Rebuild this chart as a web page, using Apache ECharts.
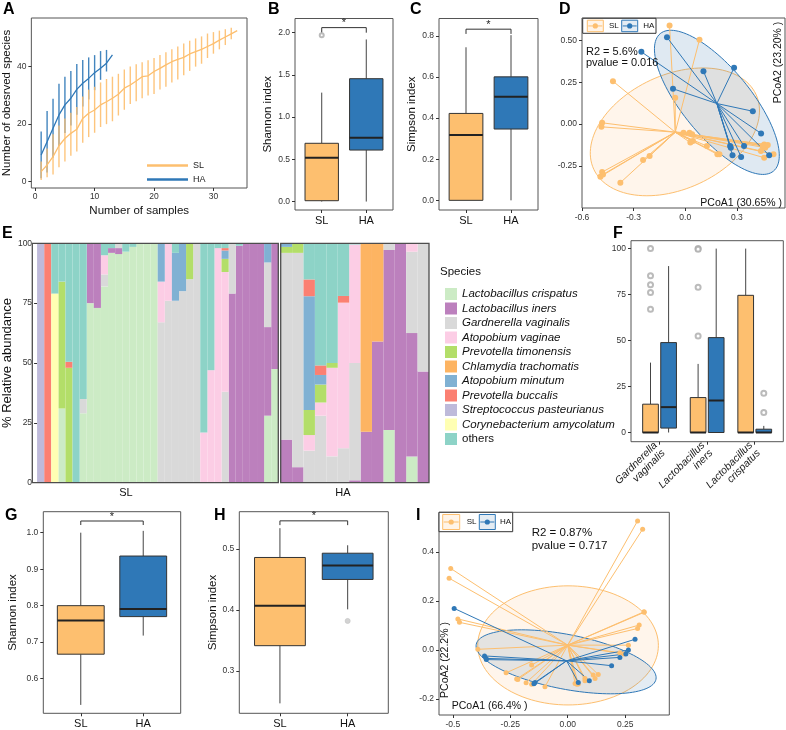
<!DOCTYPE html>
<html>
<head>
<meta charset="utf-8">
<title>Microbiome panels</title>
<script src="https://cdn.jsdelivr.net/npm/echarts@6.0.0/dist/echarts.min.js"></script>
<style>
  html, body { margin: 0; padding: 0; background: #fff; }
  #main { width: 786px; height: 730px; }
</style>
</head>
<body>
<div id="main"></div>
<script>
var FONT = '"Liberation Sans", Arial, sans-serif';
var ORANGE = '#FDBF6F';
var BLUE = '#2F78B7';
var groups = ['SL', 'HA'];

// ---- A: rarefaction curves (mean and error bars) ----
var rareSlX = [1, 2, 3, 4, 5, 6, 7, 8, 9, 10, 11, 12, 13, 14, 15, 16, 17, 18, 19, 20, 21, 22, 23, 24, 25, 26, 27, 28, 29, 30, 31, 32, 33, 34];
var rareSlMean = [3.5, 5.8, 8.7, 12.5, 15, 16.8, 18.2, 22, 23.8, 24.9, 26.7, 27.8, 29, 30.4, 32.5, 33.6, 35, 36.5, 36.8, 38.3, 39.4, 40.6, 41.7, 42.5, 43.2, 44.4, 45.2, 46, 47, 48, 49.2, 50.3, 51.4, 52.5];
var rareSlLow = [0.6, 1.5, 2.5, 5, 7, 9, 10.5, 13.5, 15.5, 17, 19, 20, 21, 23, 25, 27, 28, 29, 30, 30.5, 32, 33, 34.5, 35.5, 37, 38.5, 40, 41, 43, 44.5, 46, 47.5, 49.5, 52.5];
var rareSlHigh = [7, 11.5, 16.5, 19.5, 22, 24, 26, 29.6, 32, 33, 34.5, 35.7, 36.5, 37.5, 39, 40, 40.8, 41.5, 42.2, 43, 44, 45, 46, 47, 48, 49, 49.8, 50.5, 51.5, 52, 52.5, 53, 53.5, 52.5];
var rareHaX = [1, 2, 3, 4, 5, 6, 7, 8, 9, 10, 11, 12, 13];
var rareHaMean = [9.3, 13.9, 18.6, 23.2, 26.7, 29, 32.1, 34.2, 35.9, 37.9, 39.4, 41.2, 44.1];
var rareHaLow = [1.2, 3.2, 8.4, 12.4, 16.9, 19.5, 23.3, 26.1, 28.6, 31.8, 35.4, 38.3, null];
var rareHaHigh = [17.4, 24.6, 28.8, 34, 36.5, 38.5, 40.9, 42.3, 43.2, 44, 45.4, 45.8, null];
var aTicksX = [0, 10, 20, 30];
var aTicksY = [0, 20, 40];

// ---- B / C: alpha diversity boxplots [low, q1, median, q3, high] ----
var bShannonSL = [0, 0.01, 0.52, 0.69, 1.29];
var bShannonHA = [0, 0.61, 0.756, 1.455, 1.92];
var bShannonOutSL = [1.97];
var bTicks = [0, 0.5, 1, 1.5, 2];
var bTickLabels = ['0.0', '0.5', '1.0', '1.5', '2.0'];
var cSimpsonSL = [0, 0, 0.318, 0.423, 0.745];
var cSimpsonHA = [0, 0.347, 0.504, 0.601, 0.804];
var cTicks = [0, 0.2, 0.4, 0.6, 0.8];
var cTickLabels = ['0.0', '0.2', '0.4', '0.6', '0.8'];

// ---- D: PCoA ----
var dSlX = [-0.091, 0.083, -0.42, -0.058, -0.483, -0.487, -0.01, 0.025, 0.045, 0.126, 0.187, 0.199, 0.459, 0.47, 0.459, 0.513, 0.465, 0.44, -0.207, -0.245, -0.483, -0.478, -0.493, -0.377, 0.04, 0.03, 0.48, 0.45];
var dSlY = [0.588, 0.504, 0.256, 0.157, 0.008, -0.016, -0.051, -0.051, -0.101, -0.131, -0.18, -0.18, -0.121, -0.131, -0.2, -0.18, -0.14, -0.16, -0.19, -0.214, -0.286, -0.30, -0.313, -0.349, -0.06, -0.11, -0.125, -0.13];
var dHaX = [-0.106, -0.255, 0.106, 0.284, -0.071, 0.393, 0.441, 0.265, 0.342, 0.275, 0.325, 0.488, 0.261];
var dHaY = [0.518, 0.431, 0.316, 0.336, 0.211, 0.077, -0.055, -0.141, -0.131, -0.186, -0.196, -0.186, -0.131];
var dSlCentroid = [-0.058, -0.048];
var dHaCentroid = [0.184, 0.123];
// ellipse: centre x, centre y, semi-axis u (x, y), semi-axis v (x, y)
var dSlEllipse = [-0.06, -0.046, 0.464, 0, 0.163, 0.381];
var dHaEllipse = [0.184, 0.13, 0.329, -0.41, -0.153, -0.129];
var dTicksX = [-0.6, -0.3, 0, 0.3];
var dTickLabelsX = ['-0.6', '-0.3', '0.0', '0.3'];
var dTicksY = [-0.25, 0, 0.25, 0.5];
var dTickLabelsY = ['-0.25', '0.00', '0.25', '0.50'];

// ---- E: relative abundance per sample ----
var species = ['Lactobacillus crispatus', 'Lactobacillus iners', 'Gardnerella vaginalis', 'Atopobium vaginae', 'Prevotella timonensis', 'Chlamydia trachomatis', 'Atopobium minutum', 'Prevotella buccalis', 'Streptococcus pasteurianus', 'Corynebacterium amycolatum', 'others'];
var speciesColors = ['#CCEBC5', '#BC80BD', '#D9D9D9', '#FCCDE5', '#B3DE69', '#FDB462', '#80B1D3', '#FB8072', '#BEBADA', '#FFFFB3', '#8DD3C7'];
var slCrispatus = [0, 0, 0, 31, 0, 0, 29, 75, 73, 82, 96, 95.5, 96.5, 98.5, 100, 100, 100, 0, 0, 0, 0, 0, 0, 0, 0, 0, 0, 0, 0, 0, 0, 0, 28, 47.5];
var slIners = [0, 0, 0, 0, 0, 0, 0, 25, 27, 0, 2, 2.5, 0, 0, 0, 0, 0, 0, 0, 0, 0, 0, 0, 0, 0, 0, 0, 79, 99, 100, 100, 100, 37, 52.5];
var slGardnerella = [0, 0, 0, 0, 0, 0, 6, 0, 0, 5, 0, 2, 0, 0, 0, 0, 0, 67, 76, 76, 80, 85, 100, 0, 0, 0, 38, 21, 0, 0, 0, 0, 27, 0];
var slVaginae = [0, 0, 0, 0, 0, 0, 0, 0, 0, 8, 0, 0, 0, 0, 0, 0, 0, 17, 24, 0, 0, 0, 0, 21, 47, 98, 50, 0, 0, 0, 0, 0, 0, 0];
var slTimonensis = [0, 0, 0, 53, 48, 0, 0, 0, 0, 0, 0, 0, 0, 0, 0, 0, 0, 0, 0, 0, 0, 15, 0, 0, 0, 0, 5.5, 0, 0, 0, 0, 0, 0, 0];
var slTrachomatis = [0, 0, 0, 0, 0, 0, 0, 0, 0, 0, 0, 0, 0, 0, 0, 0, 0, 0, 0, 0, 0, 0, 0, 0, 0, 0, 0, 0, 0, 0, 0, 0, 0, 0];
var slMinutum = [0, 0, 0, 0, 0, 0, 0, 0, 0, 0, 0, 0, 0, 0, 0, 0, 0, 16, 0, 20, 20, 0, 0, 0, 0, 0, 3.5, 0, 0, 0, 0, 0, 8, 0];
var slBuccalis = [0, 100, 0, 0, 2.5, 0, 0, 0, 0, 0, 0, 0, 0, 0, 0, 0, 0, 0, 0, 0, 0, 0, 0, 0, 0, 0, 1, 0, 0, 0, 0, 0, 0, 0];
var slPasteurianus = [100, 0, 0, 0, 0, 0, 0, 0, 0, 0, 0, 0, 0, 0, 0, 0, 0, 0, 0, 0, 0, 0, 0, 0, 0, 0, 0, 0, 0, 0, 0, 0, 0, 0];
var slAmycolatum = [0, 0, 79, 0, 0, 0, 0, 0, 0, 0, 0, 0, 0, 0, 0, 0, 0, 0, 0, 0, 0, 0, 0, 0, 0, 0, 0, 0, 0, 0, 0, 0, 0, 0];
var slOthers = [0, 0, 21, 16, 49.5, 100, 65, 0, 0, 5, 2, 0, 3.5, 1.5, 0, 0, 0, 0, 0, 4, 0, 0, 0, 79, 53, 2, 2, 0, 1, 0, 0, 0, 0, 0];
var haCrispatus = [0, 0, 0, 0, 0, 0, 0, 0, 0, 22, 0, 10.9, 0];
var haIners = [18, 6.5, 0, 0, 0, 0, 1, 21.3, 59, 75.2, 100, 51.6, 46.5];
var haGardnerella = [78, 89.5, 13.4, 28, 11, 14.4, 49, 0, 0, 2.8, 0, 34, 53.5];
var haVaginae = [0, 0, 6.5, 5.5, 37, 60.8, 49.5, 0, 0, 0, 0, 3.5, 0];
var haTimonensis = [2.5, 4, 10.5, 7.5, 2, 0, 0, 0, 0, 0, 0, 0, 0];
var haTrachomatis = [0, 0, 0, 0, 0, 0, 0, 78.7, 41, 0, 0, 0, 0];
var haMinutum = [1.5, 0, 47.5, 4, 0, 0, 0, 0, 0, 0, 0, 0, 0];
var haBuccalis = [0, 0, 7, 4, 0, 2.8, 0, 0, 0, 0, 0, 0, 0];
var haPasteurianus = [0, 0, 0, 0, 0, 0, 0, 0, 0, 0, 0, 0, 0];
var haAmycolatum = [0, 0, 0, 0, 0, 0, 0, 0, 0, 0, 0, 0, 0];
var haOthers = [0, 0, 15.1, 51, 50, 22, 0.5, 0, 0, 0, 0, 0, 0];
var eTicks = [0, 25, 50, 75, 100];

// ---- F: top species abundance boxplots ----
var fCategories = ['Gardnerella vaginalis', 'Lactobacillus iners', 'Lactobacillus crispatus'];
var fGardSL = [0, 0, 0, 15.4, 38];
var fGardHA = [0, 2.4, 13.8, 48.9, 90.5];
var fInersSL = [0, 0, 0, 19, 37.3];
var fInersHA = [0, 0, 17.4, 51.6, 100];
var fCrispSL = [0, 0, 0, 74.6, 100];
var fCrispHA = [0, 0, 0, 1.8, 3.6];
var fGardOutSL = [100, 85.3, 80.3, 76.1, 67];
var fInersOutSL = [100, 99.6, 79, 52.5];
var fCrispOutHA = [21.4, 10.9];
var fTicks = [0, 25, 50, 75, 100];

// ---- G / H ----
var gShannonSL = [0.528, 0.667, 0.759, 0.8, 1.0];
var gShannonHA = [0.718, 0.77, 0.791, 0.936, 1.005];
var gTicks = [0.6, 0.7, 0.8, 0.9, 1.0];
var gTickLabels = ['0.6', '0.7', '0.8', '0.9', '1.0'];
var hSimpsonSL = [0.247, 0.3415, 0.407, 0.486, 0.534];
var hSimpsonHA = [0.401, 0.45, 0.473, 0.493, 0.506];
var hSimpsonOutHA = [0.382];
var hTicks = [0.3, 0.4, 0.5];
var hTickLabels = ['0.3', '0.4', '0.5'];

// ---- I: PCoA ----
var iSlX = [0.304, 0.326, -0.509, -0.516, -0.478, -0.471, 0.333, 0.332, 0.311, 0.304, -0.391, 0.264, 0.227, 0.245, -0.157, -0.268, -0.217, -0.181, -0.157, -0.099, 0.032, 0.046, 0.075, 0.075, 0.111, 0.133, 0.119, -0.222, 0.04];
var iSlY = [0.527, 0.493, 0.333, 0.293, 0.127, 0.113, 0.154, 0.156, 0.102, 0.088, 0.003, 0.02, -0.011, -0.016, -0.061, -0.093, -0.12, -0.133, -0.14, -0.15, -0.136, -0.139, -0.125, -0.116, -0.102, -0.1, -0.116, -0.118, -0.14];
var iHaX = [-0.494, -0.362, -0.355, -0.354, -0.142, 0.046, 0.094, 0.191, 0.227, 0.253, 0.264, 0.293, -0.147];
var iHaY = [0.17, -0.024, -0.034, -0.039, -0.132, -0.132, -0.125, -0.064, -0.03, -0.016, 0.0, 0.044, -0.138];
var iSlCentroid = [0, 0.02];
var iHaCentroid = [-0.005, -0.044];
var iSlEllipse = [0.0015, 0.019, 0.393, 0, 0, 0.243];
var iHaEllipse = [-0.007, -0.048, 0.379, -0.034, -0.099, 0.126];
var iTicksX = [-0.5, -0.25, 0, 0.25];
var iTickLabelsX = ['-0.5', '-0.25', '0.00', '0.25'];
var iTicksY = [-0.2, 0, 0.2, 0.4];
var iTickLabelsY = ['-0.2', '0.0', '0.2', '0.4'];

var chart = echarts.init(document.getElementById('main'));

function tickFmt(ticks, labels) {
  return function (v) {
    for (var i = 0; i < ticks.length; i++) {
      if (Math.abs(ticks[i] - v) < 1e-9) return labels[i];
    }
    return '';
  };
}

// value axis with explicit tick positions
function vAxis(grid, min, max, ticks, labels, o) {
  o = o || {};
  return {
    type: 'value', gridIndex: grid, min: min, max: max, show: o.show !== false,
    name: o.name || '', nameLocation: 'middle', nameGap: o.nameGap || 15,
    nameTextStyle: { fontSize: o.nameSize || 11.5, color: '#111', fontFamily: FONT },
    axisLine: { show: false, onZero: false },
    splitLine: { show: false },
    axisTick: { show: !!ticks, customValues: ticks || undefined, length: 3, lineStyle: { color: '#333' } },
    axisLabel: {
      show: !!ticks, customValues: ticks || undefined,
      formatter: ticks ? tickFmt(ticks, labels) : undefined,
      fontSize: o.fontSize || 8.5, color: o.color || '#333', margin: o.margin || 5,
      rotate: o.rotate || 0, fontStyle: o.italic ? 'italic' : 'normal', fontFamily: FONT
    }
  };
}

function errBar(color) {
  return function (params, api) {
    var a = api.coord([api.value(0), api.value(1)]);
    var b = api.coord([api.value(0), api.value(2)]);
    return { type: 'line', shape: { x1: a[0], y1: a[1], x2: b[0], y2: b[1] }, style: { stroke: color, lineWidth: 1.4, opacity: 0.9 } };
  };
}

function renderBox(fill, hw) {
  return function (params, api) {
    var x = api.value(0);
    var lo = api.coord([x, api.value(1)]), q1 = api.coord([x, api.value(2)]), md = api.coord([x, api.value(3)]);
    var q3 = api.coord([x, api.value(4)]), hi = api.coord([x, api.value(5)]);
    var l = api.coord([x - hw, api.value(3)])[0], r = api.coord([x + hw, api.value(3)])[0];
    return {
      type: 'group', children: [
        { type: 'line', shape: { x1: lo[0], y1: lo[1], x2: q1[0], y2: q1[1] }, style: { stroke: '#444', lineWidth: 1 } },
        { type: 'line', shape: { x1: q3[0], y1: q3[1], x2: hi[0], y2: hi[1] }, style: { stroke: '#444', lineWidth: 1 } },
        { type: 'rect', shape: { x: l, y: q3[1], width: r - l, height: q1[1] - q3[1] }, style: { fill: fill, stroke: '#333', lineWidth: 1 } },
        { type: 'line', shape: { x1: l, y1: md[1], x2: r, y2: md[1] }, style: { stroke: '#222', lineWidth: 2 } }
      ]
    };
  };
}

function boxSeries(grid, x, stats, color, hw) {
  return {
    type: 'custom', name: 'box' + grid, xAxisIndex: grid, yAxisIndex: grid, clip: false,
    renderItem: renderBox(color, hw), data: [[x].concat(stats)], encode: { x: 0, y: [1, 2, 3, 4, 5] }
  };
}

function outlierSeries(grid, x, vals, sym, color, size) {
  return {
    type: 'scatter', name: 'out' + grid, xAxisIndex: grid, yAxisIndex: grid, symbol: sym, symbolSize: size,
    itemStyle: { color: color, borderColor: color }, data: vals.map(function (v) { return [x, v]; }), z: 4
  };
}

function bracketSeries(grid, yTop, yLeg) {
  return {
    type: 'custom', name: 'sig' + grid, xAxisIndex: grid, yAxisIndex: grid, clip: false,
    data: [[1, 2, yTop, yLeg]], encode: { x: [0, 1], y: [2, 3] },
    renderItem: function (params, api) {
      var a = api.coord([api.value(0), api.value(3)]), b = api.coord([api.value(0), api.value(2)]);
      var c = api.coord([api.value(1), api.value(2)]), d = api.coord([api.value(1), api.value(3)]);
      return {
        type: 'group', children: [
          { type: 'polyline', shape: { points: [a, b, c, d] }, style: { stroke: '#333', lineWidth: 1, fill: 'none' } },
          { type: 'text', x: (b[0] + c[0]) / 2, y: b[1] + 1, style: { text: '*', fontSize: 11, fontFamily: FONT, fill: '#222', align: 'center', verticalAlign: 'bottom', textAlign: 'center', textVerticalAlign: 'bottom' } }
        ]
      };
    }
  };
}

function ellipseSeries(grid, e, stroke, fill) {
  return {
    type: 'custom', name: 'ell' + grid, xAxisIndex: grid, yAxisIndex: grid, clip: true,
    data: [e], encode: { x: 0, y: 1 }, z: 1,
    renderItem: function (params, api) {
      var cx = api.value(0), cy = api.value(1), ux = api.value(2), uy = api.value(3), vx = api.value(4), vy = api.value(5);
      var pts = [];
      for (var k = 0; k < 120; k++) {
        var t = k / 120 * Math.PI * 2;
        pts.push(api.coord([cx + Math.cos(t) * ux + Math.sin(t) * vx, cy + Math.cos(t) * uy + Math.sin(t) * vy]));
      }
      return { type: 'polygon', shape: { points: pts }, style: { fill: fill, stroke: stroke, lineWidth: 1 } };
    }
  };
}

function spokeSeries(grid, xs, ys, centroid, color) {
  return {
    type: 'custom', name: 'spk' + grid, xAxisIndex: grid, yAxisIndex: grid, clip: true, z: 2,
    data: xs.map(function (x, i) { return [x, ys[i], centroid[0], centroid[1]]; }),
    encode: { x: [0, 2], y: [1, 3] },
    renderItem: function (params, api) {
      var a = api.coord([api.value(0), api.value(1)]), b = api.coord([api.value(2), api.value(3)]);
      return { type: 'line', shape: { x1: a[0], y1: a[1], x2: b[0], y2: b[1] }, style: { stroke: color, lineWidth: 1 } };
    }
  };
}

function pointSeries(grid, xs, ys, color, size) {
  return {
    type: 'scatter', name: 'pt' + grid, xAxisIndex: grid, yAxisIndex: grid, symbolSize: size, z: 3,
    itemStyle: { color: color, opacity: 1 }, data: xs.map(function (x, i) { return [x, ys[i]]; })
  };
}

var grids = [
  { left: 30, top: 18, width: 217, height: 170 },        // A
  { left: 295, top: 18.5, width: 98, height: 191.5 },    // B
  { left: 439, top: 18.5, width: 99, height: 191.5 },    // C
  { left: 582, top: 18, width: 203, height: 190 },       // D
  { left: 32.3, top: 243.3, width: 246, height: 239.4, show: false },   // E SL
  { left: 280.7, top: 243.3, width: 148.3, height: 239.4, show: false }, // E HA
  { left: 631, top: 240.7, width: 152.3, height: 201 },  // F
  { left: 43.3, top: 511.7, width: 137.4, height: 201.6 }, // G
  { left: 239.3, top: 511.7, width: 149, height: 201.6 },  // H
  { left: 439, top: 512.3, width: 230.3, height: 202.7 }   // I
].map(function (g) {
  return Object.assign({ show: true, borderColor: '#555', borderWidth: 1, backgroundColor: 'transparent' }, g);
});

var slSampleIds = rareSlX.map(function (n) { return 'SL' + n; });
var haSampleIds = rareHaX.map(function (n) { return 'HA' + n; });

var xAxes = [
  vAxis(0, -0.65, 35.65, aTicksX, aTicksX.map(String), { name: 'Number of samples', nameGap: 17, margin: 4 }),
  vAxis(1, 0.4, 2.6, [1, 2], groups, { fontSize: 11, color: '#111', margin: 5 }),
  vAxis(2, 0.4, 2.6, [1, 2], groups, { fontSize: 11, color: '#111', margin: 5 }),
  vAxis(3, -0.6, 0.58, dTicksX, dTickLabelsX, { margin: 5 }),
  { type: 'category', gridIndex: 4, data: slSampleIds, boundaryGap: true, axisLine: { show: false }, axisTick: { show: false }, axisLabel: { show: false } },
  { type: 'category', gridIndex: 5, data: haSampleIds, boundaryGap: true, axisLine: { show: false }, axisTick: { show: false }, axisLabel: { show: false } },
  vAxis(6, 0.4, 3.6, [1, 2, 3], fCategories.map(function (s) { return s.replace(' ', '\n'); }), { fontSize: 10.5, color: '#222', rotate: 45, italic: true, margin: 6 }),
  vAxis(7, 0.4, 2.6, [1, 2], groups, { fontSize: 11, color: '#111', margin: 5 }),
  vAxis(8, 0.4, 2.6, [1, 2], groups, { fontSize: 11, color: '#111', margin: 5 }),
  vAxis(9, -0.56, 0.442, iTicksX, iTickLabelsX, { margin: 5 })
];

var yAxes = [
  vAxis(0, -2.2, 56.9, aTicksY, aTicksY.map(String), { name: 'Number of obesrved species', nameGap: 15 }),
  vAxis(1, -0.1, 2.168, bTicks, bTickLabels, { name: 'Shannon index', nameGap: 16 }),
  vAxis(2, -0.047, 0.885, cTicks, cTickLabels, { name: 'Simpson index', nameGap: 17 }),
  vAxis(3, -0.5, 0.633, dTicksY, dTickLabelsY),
  vAxis(4, 0, 100, eTicks, eTicks.map(String), { name: '% Relative abundance', nameGap: 18, nameSize: 13 }),
  vAxis(5, 0, 100, null, null, { show: false }),
  vAxis(6, -5, 104.3, fTicks, fTicks.map(String)),
  vAxis(7, 0.505, 1.0575, gTicks, gTickLabels, { name: 'Shannon index', nameGap: 24 }),
  vAxis(8, 0.2307, 0.561, hTicks, hTickLabels, { name: 'Simpson index', nameGap: 18 }),
  vAxis(9, -0.265, 0.562, iTicksY, iTickLabelsY)
];

var series = [];

// A
series.push({ type: 'custom', name: 'HA sd', xAxisIndex: 0, yAxisIndex: 0, renderItem: errBar(BLUE), encode: { x: 0, y: [1, 2] },
  data: rareHaX.map(function (x, i) { return [x, rareHaLow[i], rareHaHigh[i]]; }).filter(function (d) { return d[1] != null; }) });
series.push({ type: 'custom', name: 'SL sd', xAxisIndex: 0, yAxisIndex: 0, renderItem: errBar(ORANGE), encode: { x: 0, y: [1, 2] },
  data: rareSlX.map(function (x, i) { return [x, rareSlLow[i], rareSlHigh[i]]; }) });
series.push({ type: 'line', name: 'SL', xAxisIndex: 0, yAxisIndex: 0, showSymbol: false, color: ORANGE,
  lineStyle: { color: ORANGE, width: 1.3 }, itemStyle: { color: ORANGE },
  data: rareSlX.map(function (x, i) { return [x, rareSlMean[i]]; }) });
series.push({ type: 'line', name: 'HA', xAxisIndex: 0, yAxisIndex: 0, showSymbol: false, color: BLUE,
  lineStyle: { color: BLUE, width: 1.3 }, itemStyle: { color: BLUE },
  data: rareHaX.map(function (x, i) { return [x, rareHaMean[i]]; }) });

// B, C, G, H boxplots
series.push(boxSeries(1, 1, bShannonSL, ORANGE, 0.375), boxSeries(1, 2, bShannonHA, BLUE, 0.375));
series.push(outlierSeries(1, 1, bShannonOutSL, 'emptyCircle', '#aaa', 4));
series.push(bracketSeries(1, 2.06, 2.0));
series.push(boxSeries(2, 1, cSimpsonSL, ORANGE, 0.375), boxSeries(2, 2, cSimpsonHA, BLUE, 0.375));
series.push(bracketSeries(2, 0.833, 0.81));
series.push(boxSeries(7, 1, gShannonSL, ORANGE, 0.375), boxSeries(7, 2, gShannonHA, BLUE, 0.375));
series.push(bracketSeries(7, 1.032, 1.021));
series.push(boxSeries(8, 1, hSimpsonSL, ORANGE, 0.375), boxSeries(8, 2, hSimpsonHA, BLUE, 0.375));
series.push(outlierSeries(8, 2, hSimpsonOutHA, 'circle', '#c8c8c8', 5));
series.push(bracketSeries(8, 0.546, 0.539));

// D, I PCoA
series.push(ellipseSeries(3, dSlEllipse, ORANGE, 'rgba(253,180,98,0.13)'));
series.push(ellipseSeries(3, dHaEllipse, BLUE, 'rgba(31,100,160,0.14)'));
series.push(spokeSeries(3, dSlX, dSlY, dSlCentroid, ORANGE));
series.push(spokeSeries(3, dHaX, dHaY, dHaCentroid, BLUE));
series.push(pointSeries(3, dSlX, dSlY, ORANGE, 6));
series.push(pointSeries(3, dHaX, dHaY, BLUE, 6));
series.push(ellipseSeries(9, iSlEllipse, ORANGE, 'rgba(253,180,98,0.13)'));
series.push(ellipseSeries(9, iHaEllipse, BLUE, 'rgba(31,100,160,0.12)'));
series.push(spokeSeries(9, iSlX, iSlY, iSlCentroid, ORANGE));
series.push(spokeSeries(9, iHaX, iHaY, iHaCentroid, BLUE));
series.push(pointSeries(9, iSlX, iSlY, ORANGE, 5));
series.push(pointSeries(9, iHaX, iHaY, BLUE, 5));

// E stacked bars
var slAbund = [slCrispatus, slIners, slGardnerella, slVaginae, slTimonensis, slTrachomatis, slMinutum, slBuccalis, slPasteurianus, slAmycolatum, slOthers];
var haAbund = [haCrispatus, haIners, haGardnerella, haVaginae, haTimonensis, haTrachomatis, haMinutum, haBuccalis, haPasteurianus, haAmycolatum, haOthers];
species.forEach(function (name, k) {
  series.push({ type: 'bar', name: name, xAxisIndex: 4, yAxisIndex: 4, stack: 'sl', barWidth: '100%', barCategoryGap: '0%',
    itemStyle: { color: speciesColors[k] }, color: speciesColors[k], data: slAbund[k] });
  series.push({ type: 'bar', name: name, xAxisIndex: 5, yAxisIndex: 5, stack: 'ha', barWidth: '100%', barCategoryGap: '0%',
    itemStyle: { color: speciesColors[k] }, color: speciesColors[k], data: haAbund[k] });
});

// F dodged boxplots
var fDodge = 0.19, fHalf = 0.165;
series.push(boxSeries(6, 1 - fDodge, fGardSL, ORANGE, fHalf), boxSeries(6, 1 + fDodge, fGardHA, BLUE, fHalf));
series.push(boxSeries(6, 2 - fDodge, fInersSL, ORANGE, fHalf), boxSeries(6, 2 + fDodge, fInersHA, BLUE, fHalf));
series.push(boxSeries(6, 3 - fDodge, fCrispSL, ORANGE, fHalf), boxSeries(6, 3 + fDodge, fCrispHA, BLUE, fHalf));
series.push(outlierSeries(6, 1 - fDodge, fGardOutSL, 'emptyCircle', '#aaa', 5));
series.push(outlierSeries(6, 2 - fDodge, fInersOutSL, 'emptyCircle', '#aaa', 5));
series.push(outlierSeries(6, 3 + fDodge, fCrispOutHA, 'emptyCircle', '#aaa', 5));

function txt(s, x, y, o) {
  o = o || {};
  var al = o.align || 'left', va = o.valign || 'middle';
  return {
    type: 'text', x: x, y: y, rotation: o.rot || 0, z: 100,
    style: {
      text: s, fontSize: o.size || 11, fontWeight: o.bold ? 'bold' : 'normal', fontFamily: FONT, fill: o.color || '#111',
      textAlign: al, textVerticalAlign: va, align: al, verticalAlign: va
    }
  };
}

function pcoaKey(x, y, w, h, color, fill) {
  return [
    { type: 'rect', z: 100, shape: { x: x, y: y, width: w, height: h }, style: { fill: fill, stroke: color, lineWidth: 1 } },
    { type: 'line', z: 101, shape: { x1: x + 1, y1: y + h / 2, x2: x + w - 1, y2: y + h / 2 }, style: { stroke: color, lineWidth: 1 } },
    { type: 'circle', z: 101, shape: { cx: x + w / 2, cy: y + h / 2, r: 2.6 }, style: { fill: color } }
  ];
}

var graphics = [];
[['A', 3, 2], ['B', 268, 2], ['C', 410, 2], ['D', 559, 2], ['E', 2, 226], ['F', 613, 226], ['G', 5, 508], ['H', 214, 508], ['I', 416, 508]].forEach(function (p) {
  graphics.push(txt(p[0], p[1], p[2], { size: 16, bold: true, valign: 'top', color: '#000' }));
});
graphics.push(txt('Species', 440, 271.7, { size: 11.5 }));
graphics.push(txt('SL', 126, 492.7, { size: 11, align: 'center' }));
graphics.push(txt('HA', 343, 492.7, { size: 11, align: 'center' }));
// E frames
graphics.push({ type: 'rect', z: 90, shape: { x: 32.3, y: 243.3, width: 246, height: 239.4 }, style: { fill: 'none', stroke: '#4d4d4d', lineWidth: 1.3 } });
graphics.push({ type: 'rect', z: 90, shape: { x: 280.7, y: 243.3, width: 148.3, height: 239.4 }, style: { fill: 'none', stroke: '#4d4d4d', lineWidth: 1.3 } });
// D annotations
graphics.push(txt('R2 = 5.6%', 586, 51.7, { size: 11 }));
graphics.push(txt('pvalue = 0.016', 586, 63.3, { size: 11 }));
graphics.push(txt('PCoA2 (23.20% )', 778.3, 62.5, { size: 10.5, align: 'center', rot: Math.PI / 2 }));
graphics.push(txt('PCoA1 (30.65% )', 782, 203, { size: 10.5, align: 'right' }));
graphics.push({ type: 'rect', z: 99, shape: { x: 582.7, y: 18.3, width: 73.3, height: 15 }, style: { fill: '#fff', stroke: '#333', lineWidth: 1 } });
graphics = graphics.concat(pcoaKey(587.3, 20.2, 16, 11.5, ORANGE, 'rgba(253,180,98,0.15)'));
graphics.push(txt('SL', 609, 26, { size: 8 }));
graphics = graphics.concat(pcoaKey(621.7, 20.2, 16, 11.5, BLUE, 'rgba(31,100,160,0.12)'));
graphics.push(txt('HA', 643.3, 26, { size: 8 }));
// I annotations
graphics.push(txt('R2 = 0.87%', 531.7, 532.7, { size: 11.5 }));
graphics.push(txt('pvalue = 0.717', 531.7, 546, { size: 11.5 }));
graphics.push(txt('PCoA2 (22.2% )', 445, 660, { size: 10.5, align: 'center', rot: Math.PI / 2 }));
graphics.push(txt('PCoA1 (66.4% )', 451.7, 706, { size: 10.5 }));
graphics.push({ type: 'rect', z: 99, shape: { x: 439, y: 512.3, width: 73.7, height: 19.4 }, style: { fill: '#fff', stroke: '#333', lineWidth: 1 } });
graphics = graphics.concat(pcoaKey(442.7, 514.5, 17, 15, ORANGE, 'rgba(253,180,98,0.15)'));
graphics.push(txt('SL', 466.7, 522, { size: 8 }));
graphics = graphics.concat(pcoaKey(479.3, 514.5, 16, 15, BLUE, 'rgba(31,100,160,0.12)'));
graphics.push(txt('HA', 500, 522, { size: 8 }));

var option = {
  animation: false,
  backgroundColor: '#fff',
  textStyle: { fontFamily: FONT },
  grid: grids,
  xAxis: xAxes,
  yAxis: yAxes,
  legend: [
    { data: ['SL', 'HA'], orient: 'vertical', left: 142, top: 156, itemWidth: 41, itemHeight: 2.5, itemGap: 5,
      icon: 'rect', selectedMode: false, textStyle: { fontSize: 9, color: '#222' } },
    { data: species, orient: 'vertical', left: 440, top: 283, itemWidth: 12, itemHeight: 12, itemGap: 2.5,
      icon: 'rect', selectedMode: false,
      formatter: function (n) { return n === 'others' ? '{n|others}' : n; },
      textStyle: { fontSize: 11.5, fontStyle: 'italic', color: '#111', lineHeight: 12,
        rich: { n: { fontStyle: 'normal', fontSize: 11.5, color: '#111' } } } }
  ],
  graphic: { elements: graphics },
  series: series
};

chart.setOption(option);
</script>
</body>
</html>
